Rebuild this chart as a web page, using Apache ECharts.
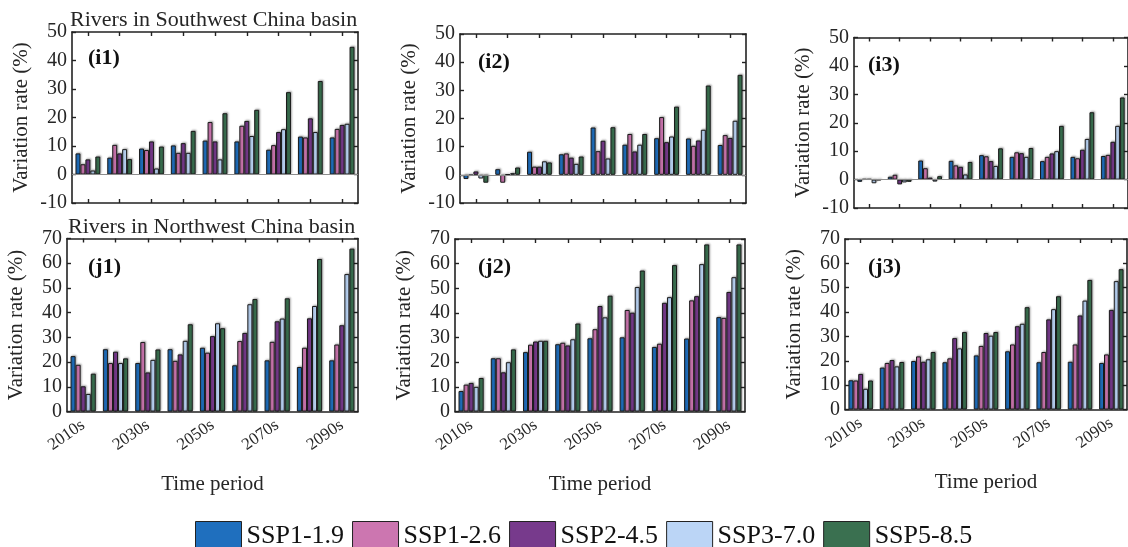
<!DOCTYPE html>
<html>
<head>
<meta charset="utf-8">
<script src="https://cdn.jsdelivr.net/npm/echarts@6/dist/echarts.min.js"></script>
<style>
html,body{margin:0;padding:0;background:#fff;}
#c{width:1128px;height:547px;}
</style>
</head>
<body>
<div id="c"></div>
<script>
// ---------------- DATA ----------------
const categories = ['2010s','2020s','2030s','2040s','2050s','2060s','2070s','2080s','2090s'];
const scenarios = ['SSP1-1.9','SSP1-2.6','SSP2-4.5','SSP3-7.0','SSP5-8.5'];
const colors = ['#1f6fbe','#cc76b0','#773a8c','#bbd5f6','#3a7050'];

// Rivers in Southwest China basin
const i1_ssp119 = [7.4, 5.9, 9.1, 10.2, 11.9, 11.6, 8.7, 13.3, 13.0];
const i1_ssp126 = [3.6, 10.4, 8.6, 7.6, 18.4, 17.1, 10.3, 13.0, 16.0];
const i1_ssp245 = [5.3, 7.4, 11.6, 11.0, 11.6, 18.8, 14.9, 19.7, 17.4];
const i1_ssp370 = [1.4, 8.9, 2.1, 7.6, 5.3, 13.5, 15.9, 14.9, 17.8];
const i1_ssp585 = [6.3, 5.4, 9.8, 15.3, 21.5, 22.7, 28.9, 32.8, 44.8];

const i2_ssp119 = [-1.5, 2.0, 8.2, 7.3, 16.8, 10.7, 13.0, 12.9, 10.6];
const i2_ssp126 = [-0.2, -2.8, 2.9, 7.6, 8.4, 14.5, 20.5, 10.3, 14.1];
const i2_ssp245 = [1.2, 0.2, 2.9, 6.1, 12.1, 8.3, 11.6, 12.2, 13.1];
const i2_ssp370 = [-1.3, 0.6, 4.8, 3.9, 5.8, 10.7, 13.6, 16.0, 19.2];
const i2_ssp585 = [-2.8, 2.6, 4.4, 6.5, 16.9, 14.5, 24.2, 31.7, 35.5];

const i3_ssp119 = [-0.8, 1.0, 6.7, 6.6, 8.6, 8.0, 6.5, 8.0, 8.3];
const i3_ssp126 = [0.2, 1.7, 4.0, 5.0, 8.2, 9.6, 8.0, 7.5, 8.7];
const i3_ssp245 = [0.2, -1.7, 0.7, 4.5, 6.5, 9.3, 9.2, 10.5, 13.3];
const i3_ssp370 = [-1.3, -1.0, -0.7, 1.8, 4.8, 8.0, 10.0, 14.3, 18.9];
const i3_ssp585 = [-0.2, -0.8, 1.2, 6.2, 11.0, 11.1, 18.9, 23.7, 28.9];

// Rivers in Northwest China basin
const j1_ssp119 = [22.4, 25.2, 19.6, 25.2, 25.8, 18.7, 20.7, 18.0, 20.7];
const j1_ssp126 = [18.9, 19.6, 28.1, 20.5, 23.8, 28.5, 28.2, 25.8, 27.1];
const j1_ssp245 = [10.2, 24.2, 15.8, 23.1, 30.5, 31.8, 36.5, 37.7, 34.9];
const j1_ssp370 = [7.1, 19.6, 20.9, 28.6, 35.7, 43.4, 37.6, 42.7, 55.6];
const j1_ssp585 = [15.3, 21.5, 25.1, 35.3, 33.7, 45.5, 45.8, 61.7, 65.9];

const j2_ssp119 = [8.3, 21.6, 24.1, 27.3, 29.7, 30.1, 26.2, 29.6, 38.3];
const j2_ssp126 = [10.9, 21.6, 27.1, 27.9, 33.4, 41.2, 27.5, 45.1, 38.0];
const j2_ssp245 = [11.6, 15.9, 28.4, 26.8, 42.8, 40.1, 44.1, 46.8, 48.5];
const j2_ssp370 = [10.0, 20.0, 28.7, 29.3, 38.2, 50.5, 46.4, 59.8, 54.5];
const j2_ssp585 = [13.6, 25.2, 28.7, 35.7, 47.0, 57.2, 59.4, 67.8, 67.8];

const j3_ssp119 = [12.0, 17.2, 19.9, 19.4, 22.2, 23.9, 19.4, 19.6, 19.1];
const j3_ssp126 = [11.9, 19.1, 21.8, 21.0, 26.1, 26.7, 23.6, 26.7, 22.6];
const j3_ssp245 = [14.6, 20.3, 19.6, 29.3, 31.4, 34.2, 37.0, 38.6, 40.9];
const j3_ssp370 = [8.5, 17.7, 20.6, 25.1, 30.3, 35.2, 41.2, 44.7, 52.7];
const j3_ssp585 = [11.9, 19.5, 23.6, 31.8, 31.8, 42.0, 46.5, 53.2, 57.6];

const iTicks = {min: -10, max: 50, interval: 10};
const jTicks = {min: 0, max: 70, interval: 10};

// ---------------- LAYOUT ----------------
const FONT = 'Liberation Serif';
const TXT = '#262626';
const panels = [
  {label:'(i1)', data:[i1_ssp119,i1_ssp126,i1_ssp245,i1_ssp370,i1_ssp585], ax:iTicks, box:[72,358,32,203], lab:[88,58], zero:true, xlabels:false},
  {label:'(i2)', data:[i2_ssp119,i2_ssp126,i2_ssp245,i2_ssp370,i2_ssp585], ax:iTicks, box:[460,746,34,203], lab:[478,62], zero:true, xlabels:false},
  {label:'(i3)', data:[i3_ssp119,i3_ssp126,i3_ssp245,i3_ssp370,i3_ssp585], ax:iTicks, box:[854,1133,37.5,208], lab:[868,65], zero:true, xlabels:false},
  {label:'(j1)', data:[j1_ssp119,j1_ssp126,j1_ssp245,j1_ssp370,j1_ssp585], ax:jTicks, box:[67,358,238.5,411.5], lab:[88,267], zero:false, xlabels:true},
  {label:'(j2)', data:[j2_ssp119,j2_ssp126,j2_ssp245,j2_ssp370,j2_ssp585], ax:jTicks, box:[455,745,239,411.5], lab:[478,267], zero:false, xlabels:true},
  {label:'(j3)', data:[j3_ssp119,j3_ssp126,j3_ssp245,j3_ssp370,j3_ssp585], ax:jTicks, box:[845,1127,239,409.5], lab:[868,267], zero:false, xlabels:true}
];

const W = 1128, H = 547;
const grid = [], xAxis = [], yAxis = [], series = [], graphic = [];
const axisLine = {show:true, onZero:false, lineStyle:{color:'#222', width:1.6}};
const tickStyle = {color:'#222', width:1.4};

panels.forEach((p, k) => {
  const [l, r, t, b] = p.box;
  grid.push({left:l, top:t, width:r-l, height:b-t, containLabel:false});
  // bottom category axis
  xAxis.push({
    type:'category', gridIndex:k, data:categories, position:'bottom',
    boundaryGap:true,
    axisLine: axisLine,
    axisTick:{show:true, inside:true, alignWithLabel:true, interval:0, length:4, lineStyle:tickStyle},
    axisLabel: p.xlabels ? {show:true, interval:1, rotate:35, margin:12, fontFamily:FONT, fontSize:17, color:TXT} : {show:false},
    name: p.xlabels ? 'Time period' : '',
    nameLocation:'middle', nameGap:62,
    nameTextStyle:{fontFamily:FONT, fontSize:21, color:TXT}
  });
  // top frame axis
  xAxis.push({
    type:'category', gridIndex:k, data:categories, position:'top',
    boundaryGap:true,
    axisLine: axisLine,
    axisTick:{show:true, inside:true, alignWithLabel:true, interval:0, length:4, lineStyle:tickStyle},
    axisLabel:{show:false}
  });
  yAxis.push({
    type:'value', gridIndex:k, position:'left',
    min:p.ax.min, max:p.ax.max, interval:p.ax.interval,
    axisLine: axisLine,
    axisTick:{show:true, inside:true, length:4, lineStyle:tickStyle},
    axisLabel:{show:true, margin:5, fontFamily:FONT, fontSize:20, color:TXT},
    splitLine:{show:false},
    name:'Variation rate (%)', nameLocation:'middle', nameGap:40,
    nameTextStyle:{fontFamily:FONT, fontSize:21, color:TXT}
  });
  yAxis.push({
    type:'value', gridIndex:k, position:'right',
    min:p.ax.min, max:p.ax.max, interval:p.ax.interval,
    axisLine: axisLine,
    axisTick:{show:true, inside:true, length:4, lineStyle:tickStyle},
    axisLabel:{show:false}, splitLine:{show:false}
  });
  p.data.forEach((vals, s) => {
    const ser = {
      type:'bar', name:scenarios[s], xAxisIndex:2*k, yAxisIndex:2*k,
      data:vals, barGap:'0%', barCategoryGap:'22%',
      itemStyle:{color:colors[s], borderColor:'#1a1a1a', borderWidth:1,
        shadowColor:'rgba(0,0,0,0.28)', shadowBlur:2, shadowOffsetX:1, shadowOffsetY:-1},
      emphasis:{disabled:true}, animation:false
    };
    if (p.zero && s === 0) {
      ser.markLine = {silent:true, symbol:'none', label:{show:false}, animation:false,
        lineStyle:{color:'#8c8c8c', type:'solid', width:1.2}, data:[{yAxis:0}]};
    }
    series.push(ser);
  });
  graphic.push({type:'text', left:p.lab[0], top:p.lab[1]-11,
    style:{text:p.label, fontFamily:FONT, fontSize:22, fontWeight:'bold', fill:'#111'}});
});

graphic.push({type:'text', left:70, top:9,
  style:{text:'Rivers in Southwest China basin', fontFamily:FONT, fontSize:22, fill:TXT}});
graphic.push({type:'text', left:68, top:216,
  style:{text:'Rivers in Northwest China basin', fontFamily:FONT, fontSize:22, fill:TXT}});

const chart = echarts.init(document.getElementById('c'), null, {renderer:'canvas', width:W, height:H});
chart.setOption({
  backgroundColor:'#fff',
  animation:false,
  grid: grid, xAxis: xAxis, yAxis: yAxis, series: series, graphic: graphic,
  legend:{
    data:scenarios, left:195, top:521, itemWidth:46, itemHeight:30, itemGap:8,
    icon:'rect', padding:0,
    itemStyle:{borderColor:'#222', borderWidth:1, shadowBlur:0, shadowOffsetX:0, shadowOffsetY:0},
    textStyle:{fontFamily:FONT, fontSize:26, color:'#111'}
  }
});
</script>
</body>
</html>
